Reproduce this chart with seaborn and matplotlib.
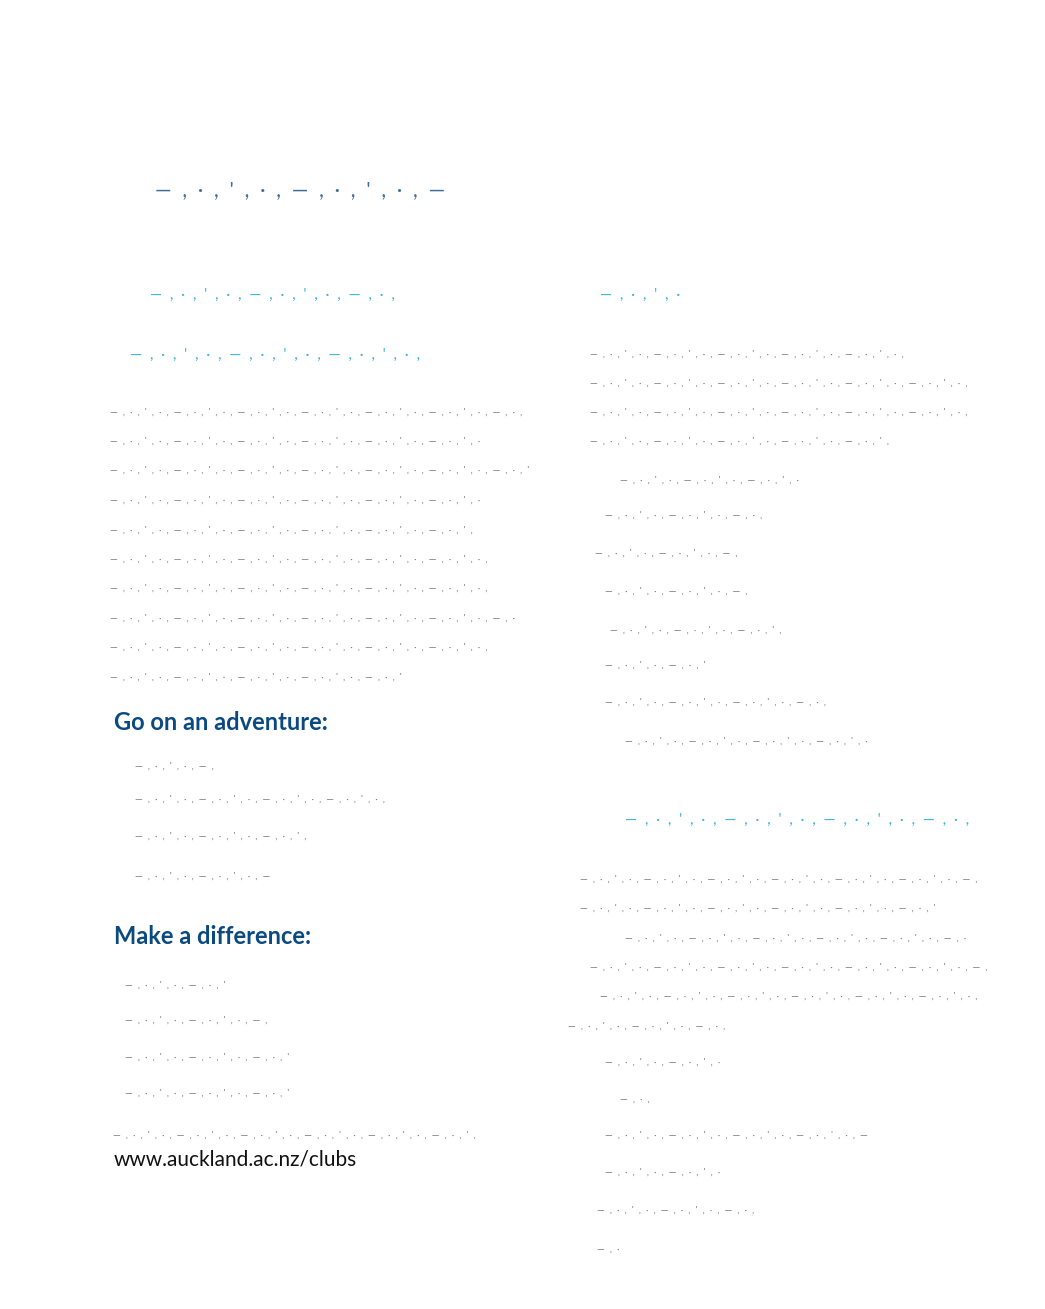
import matplotlib
matplotlib.use('Agg')
import matplotlib.pyplot as plt
import seaborn as sns

sns.set_theme(style="white")
plt.rcParams['font.family'] = ['Lato', 'DejaVu Sans']

# readable text on the page
headings = ["Go on an adventure:", "Make a difference:"]
heading_y = [722, 937]
url_text = "www.auckland.ac.nz/clubs"
url_y = 1160

# garbled (unreadable) text lines: x start, y, width in px
left_body_y = [412, 441, 470, 500, 530, 559, 588, 618, 647, 677]
left_body_w = [420, 380, 425, 380, 370, 385, 385, 410, 385, 300]
adventure_y = [766, 799, 836, 876]
adventure_w = [80, 260, 180, 140]
difference_y = [985, 1020, 1057, 1093]
difference_w = [110, 150, 170, 170]
right_top_y = [354, 383, 412, 441]
right_top_w = [320, 385, 390, 310]
right_list_y = [480, 515, 553, 591, 630, 665, 702, 741]
right_list_w = [185, 165, 145, 145, 180, 110, 230, 250]
right_list_x = [620, 605, 595, 605, 610, 605, 605, 625]
right_mid_y = [879, 908, 938, 967, 996, 1026]
right_mid_w = [400, 360, 350, 400, 390, 160]
right_mid_x = [580, 580, 625, 590, 600, 568]
right_bot_y = [1062, 1100, 1135, 1172, 1210, 1250]
right_bot_w = [120, 35, 270, 120, 165, 30]
right_bot_x = [605, 620, 605, 605, 597, 597]

# cyan subheadings (glyphs mostly lost): x, y, width
sub_x = [150, 130, 600, 625]
sub_y = [295, 355, 295, 820]
sub_w = [250, 290, 95, 340]

DARK_BLUE = "#0b4a80"
CYAN = "#0aa0cf"


def faint(width, px_per_unit):
    # stand-in for glyphs that did not render: sparse marks
    pattern = ["—", ",", "·", ",", "'", ",", "·", ","]
    n = max(2, int(width / px_per_unit))
    return "  ".join(pattern[i % len(pattern)] for i in range(n))


fig = plt.figure(figsize=(10.45, 13.09), dpi=100)
ax = fig.add_axes([0, 0, 1, 1])
ax.set_xlim(0, 1045)
ax.set_ylim(1309, 0)
ax.axis("off")

# title
ax.text(155, 190, faint(290, 17), color=DARK_BLUE, fontsize=15, alpha=0.8,
        va="center", ha="left")
for x, y, w in zip(sub_x, sub_y, sub_w):
    ax.text(x, y, faint(w, 12), color=CYAN, fontsize=11, alpha=0.8,
            va="center", ha="left")


def garbled(xs, ys, ws):
    for x, y, w in zip(xs, ys, ws):
        ax.text(x, y, faint(w, 8), color="#4a4a4a", fontsize=7, alpha=0.75,
                va="center", ha="left")


garbled([110] * len(left_body_y), left_body_y, left_body_w)
garbled([135] * len(adventure_y), adventure_y, adventure_w)
garbled([125] * len(difference_y), difference_y, difference_w)
garbled([113], [1135], [370])
garbled([590] * len(right_top_y), right_top_y, right_top_w)
garbled(right_list_x, right_list_y, right_list_w)
garbled(right_mid_x, right_mid_y, right_mid_w)
garbled(right_bot_x, right_bot_y, right_bot_w)

for txt, y in zip(headings, heading_y):
    ax.text(114, y, txt, color=DARK_BLUE, fontsize=17, fontweight="bold",
            va="center", ha="left")

ax.text(114, url_y, url_text, color="#111111", fontsize=15, va="center", ha="left")

fig.savefig("out.png", dpi=100)
